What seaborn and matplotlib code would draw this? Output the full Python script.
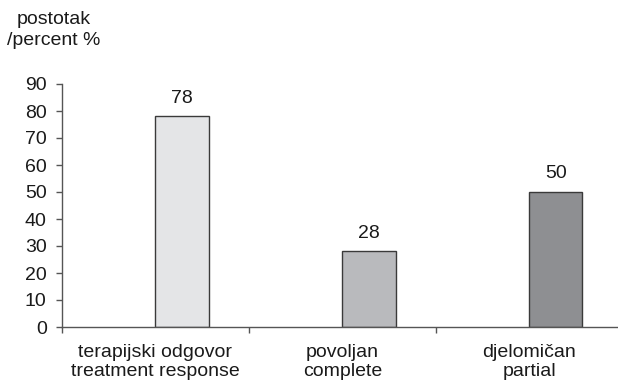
import matplotlib
matplotlib.use("Agg")
import matplotlib.pyplot as plt
import seaborn as sns
import pandas as pd

categories = ["terapijski odgovor\ntreatment response", "povoljan\ncomplete", "djelomičan\npartial"]
values = [78, 28, 50]
bar_colors = ["#e4e5e7", "#b9babd", "#8e8f92"]
y_ticks = [0, 10, 20, 30, 40, 50, 60, 70, 80, 90]
y_title = "postotak\n/percent %"

FS = 14

sns.set_theme(style="white")
plt.rcParams["font.family"] = ["Liberation Sans", "DejaVu Sans"]

df = pd.DataFrame({"category": categories, "value": values})

fig = plt.figure(figsize=(6.18, 3.83), dpi=100)
ax = fig.add_axes([62 / 618, 56 / 383, 556 / 618, (327 - 84) / 383])

bar_w = 0.285
sns.barplot(data=df, x="category", y="value", hue="category", palette=bar_colors,
            legend=False, width=bar_w, edgecolor="#3a3a3a", linewidth=1.0,
            saturation=1, ax=ax)

# bars sit just right of each category's centre
for p in ax.patches:
    p.set_x(p.get_x() + bar_w / 2)
    h = p.get_height()
    ax.annotate(f"{h:g}", (p.get_x() + p.get_width() / 2, h),
                xytext=(0, 7), textcoords="offset points",
                ha="center", va="bottom", fontsize=FS, color="#1a1a1a")

ax.set_xlim(-0.5, 2.475)
ax.set_ylim(0, 90)
ax.set_yticks(y_ticks)
ax.set_xlabel("")
ax.set_ylabel("")

ax.set_xticks([0, 1, 2])
ax.set_xticklabels(categories, fontsize=FS, color="#1a1a1a", linespacing=1.15)
ax.set_xticks([-0.5, 0.5, 1.5], minor=True)
ax.tick_params(axis="x", which="major", length=0, pad=12)
ax.tick_params(axis="x", which="minor", length=4, width=1, color="#555555",
               direction="out", bottom=True)
ax.tick_params(axis="y", length=4, width=1, color="#555555", direction="out",
               left=True, labelsize=FS, labelcolor="#1a1a1a", pad=7)

for side in ["top", "right"]:
    ax.spines[side].set_visible(False)
for side in ["left", "bottom"]:
    ax.spines[side].set_color("#555555")
    ax.spines[side].set_linewidth(1.0)

fig.text(54 / 618, 1 - 30 / 383, y_title, ha="center", va="center",
         multialignment="center", fontsize=FS, color="#1a1a1a", linespacing=1.35)

fig.savefig("out.png", dpi=100)
